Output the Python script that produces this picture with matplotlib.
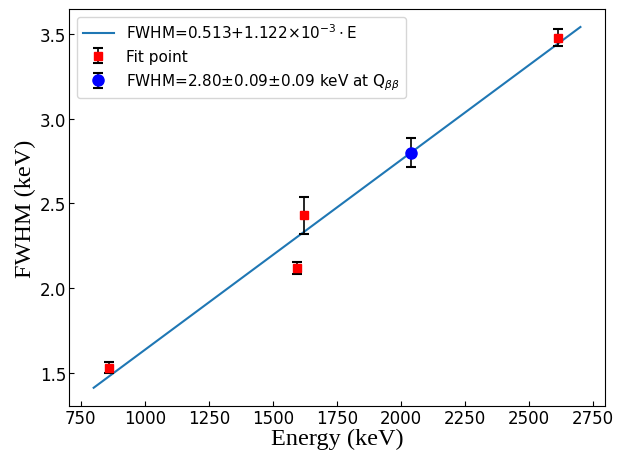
import numpy as np
import matplotlib.pyplot as plt

# fit line
fit_a = 0.513
fit_b = 1.122e-3
line_e = np.array([800, 2700])

# calibration peaks
fit_e = [860, 1593, 1620, 2614]
fit_fwhm = [1.53, 2.12, 2.43, 3.48]
fit_err = [0.03, 0.035, 0.11, 0.05]

# Q_bb
qbb_e = [2039]
qbb_fwhm = [2.80]
qbb_err = [0.085]

fig, ax = plt.subplots(figsize=(6.19, 4.52), dpi=100)

ax.plot(line_e, fit_a + fit_b * line_e, color="tab:blue",
        label=r"FWHM=0.513+1.122$\times$10$^{-3}\cdot$E")
ax.errorbar(fit_e, fit_fwhm, yerr=fit_err, fmt="s", color="red", markersize=6,
            ecolor="black", elinewidth=1.2, capsize=3.5, capthick=1.5, label="Fit point")
ax.errorbar(qbb_e, qbb_fwhm, yerr=qbb_err, fmt="o", color="blue", markersize=8,
            ecolor="black", elinewidth=1.2, capsize=3.5, capthick=1.5,
            label=r"FWHM=2.80$\pm$0.09$\pm$0.09 keV at Q$_{\beta\beta}$")

ax.set_xticks(np.arange(750, 2751, 250))
ax.set_yticks([1.5, 2.0, 2.5, 3.0, 3.5])
ax.tick_params(direction="in", labelsize=12, pad=2)
ax.set_xlabel("Energy (keV)", family="Liberation Serif", fontsize=17.5, labelpad=1)
ax.set_ylabel("FWHM (keV)", family="Liberation Serif", fontsize=17.5, labelpad=3)
ax.legend(loc="upper left", fontsize=11)

plt.subplots_adjust(left=0.112, right=0.977, top=0.978, bottom=0.1)
plt.savefig("out.png", dpi=100)
